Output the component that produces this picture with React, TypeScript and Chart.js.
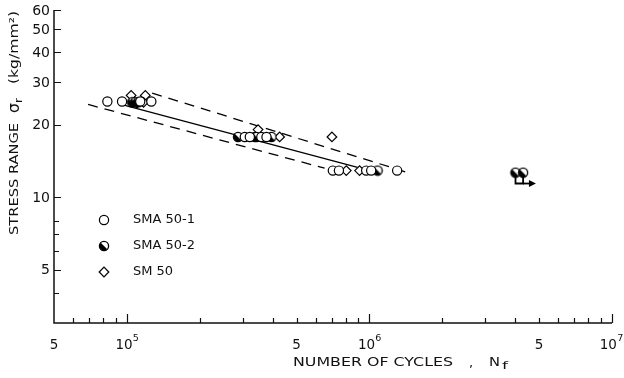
import React, { useEffect, useRef } from 'react';
import { Chart, registerables } from 'chart.js';

Chart.register(...registerables);

const FONT = '"DejaVu Sans", "Liberation Sans", sans-serif';
const INK = '#111';

// ---- data: number of cycles N and stress range (kg/mm²) ----
const sma501N = [0.83e5, 0.954e5, 1.134e5, 1.26e5, 3.06e5, 3.21e5, 3.58e5, 3.76e5, 7.06e5, 7.48e5, 9.69e5, 1.016e6, 1.3e6];
const sma501S = [25.0, 25.0, 25.0, 25.0, 17.8, 17.8, 17.8, 17.8, 12.9, 12.9, 12.9, 12.9, 12.9];
const sma502N = [1.05e5, 1.08e5, 1.11e5, 2.87e5, 3.36e5, 3.42e5, 3.94e5, 1.08e6, 4.0e6, 4.3e6];
const sma502S = [24.8, 24.8, 24.8, 17.8, 17.8, 17.8, 17.8, 12.9, 12.65, 12.65];
const sm50N = [1.04e5, 1.19e5, 1.1e5, 1.17e5, 3.47e5, 4.26e5, 7.0e5, 8.02e5, 9.1e5];
const sm50S = [26.5, 26.5, 24.6, 24.8, 19.1, 17.8, 17.8, 12.9, 12.9];

// S-N lines (mean and scatter band)
const upperN = [1.27e5, 1.46e6];
const upperS = [27.1, 12.6];
const meanN = [0.98e5, 8.93e5];
const meanS = [24.06, 13.3];
const lowerN = [6.91e4, 6.53e5];
const lowerS = [24.3, 13.2];

// run-out marker
const runN = [4.0e6, 4.0e6, 4.3e6, 4.3e6];
const runS = [12.65, 11.4, 11.4, 12.65];
const arrowN = [4.3e6, 4.72e6];
const arrowS = [11.4, 11.4];

// axes
const xMin = 5e4;
const xMax = 1e7;
const yMin = 3;
const yMax = 60;
const xMajorTicks = [1e5, 1e6, 1e7];
const xMinorTicks = [6e4, 7e4, 8e4, 9e4, 2e5, 3e5, 4e5, 5e5, 6e5, 7e5, 8e5, 9e5, 2e6, 3e6, 4e6, 5e6, 6e6, 7e6, 8e6, 9e6];
const xLabelValues = [5e4, 1e5, 5e5, 1e6, 5e6, 1e7];
const xTickLabels = ['5', '10^5', '5', '10^6', '5', '10^7'];
const yLabelValues = [60, 50, 40, 30, 20, 10, 5];
const yTickLabels = ['60', '50', '40', '30', '20', '10', '5'];
const yMinorTicks = [8, 7, 6, 4];

const legendLabels = ['SMA 50-1', 'SMA 50-2', 'SM 50'];
const legendKinds = ['open', 'half', 'diamond'];

const pts = (xs: number[], ys: number[]) => xs.map((x, i) => ({ x, y: ys[i] }));

function makeHalfCircle(): HTMLCanvasElement {
  const c = document.createElement('canvas');
  c.width = 12;
  c.height = 12;
  const g = c.getContext('2d')!;
  const cx = 6, cy = 6, r = 4.6;
  g.beginPath();
  g.arc(cx, cy, r, 0, Math.PI * 2);
  g.fillStyle = '#fff';
  g.fill();
  g.beginPath();
  g.moveTo(cx, cy);
  g.arc(cx, cy, r, Math.PI / 4, (5 * Math.PI) / 4);
  g.closePath();
  g.fillStyle = '#000';
  g.fill();
  g.beginPath();
  g.arc(cx, cy, r, 0, Math.PI * 2);
  g.lineWidth = 1.3;
  g.strokeStyle = '#000';
  g.stroke();
  return c;
}

function drawText(ctx: CanvasRenderingContext2D, text: string, x: number, y: number, font: string, targetW?: number, align: string = 'left') {
  ctx.font = font;
  const w = ctx.measureText(text).width;
  const sx = targetW ? targetW / w : 1;
  ctx.save();
  ctx.translate(x, y);
  ctx.scale(sx, 1);
  ctx.textAlign = 'left';
  ctx.textBaseline = 'middle';
  let dx = 0;
  if (align === 'center') dx = -w / 2;
  else if (align === 'right') dx = -w;
  ctx.fillText(text, dx, 0);
  ctx.restore();
}

export default function App() {
  const ref = useRef<HTMLCanvasElement>(null);

  useEffect(() => {
    document.body.style.margin = '0';
    const half = makeHalfCircle();

    const paper = {
      id: 'paper',
      afterDraw(chart: any) {
        const ctx: CanvasRenderingContext2D = chart.ctx;
        const xs = chart.scales.x;
        const ys = chart.scales.y;
        const { left, right, top, bottom } = chart.chartArea;
        ctx.save();
        ctx.strokeStyle = INK;
        ctx.fillStyle = INK;
        // axes
        ctx.lineWidth = 1.5;
        ctx.beginPath();
        ctx.moveTo(left, top);
        ctx.lineTo(left, bottom);
        ctx.lineTo(right, bottom);
        ctx.stroke();
        // ticks (inward)
        ctx.lineWidth = 1.2;
        ctx.beginPath();
        xMajorTicks.forEach((v) => {
          const p = Math.round(xs.getPixelForValue(v)) + 0.5;
          ctx.moveTo(p, bottom);
          ctx.lineTo(p, bottom - 9);
        });
        xMinorTicks.forEach((v) => {
          const p = Math.round(xs.getPixelForValue(v)) + 0.5;
          ctx.moveTo(p, bottom);
          ctx.lineTo(p, bottom - 5);
        });
        yLabelValues.forEach((v) => {
          const p = Math.round(ys.getPixelForValue(v)) + 0.5;
          ctx.moveTo(left, p);
          ctx.lineTo(left + 7, p);
        });
        yMinorTicks.forEach((v) => {
          const p = Math.round(ys.getPixelForValue(v)) + 0.5;
          ctx.moveTo(left, p);
          ctx.lineTo(left + 5, p);
        });
        ctx.stroke();

        // y tick labels
        yLabelValues.forEach((v, i) => {
          drawText(ctx, yTickLabels[i], left - 4, ys.getPixelForValue(v) + 1, `14px ${FONT}`, undefined, 'right');
        });
        // x tick labels
        xLabelValues.forEach((v, i) => {
          const p = xs.getPixelForValue(v);
          const lab = xTickLabels[i];
          const yy = bottom + 22;
          const bf = `13.5px ${FONT}`;
          const ef = `9.5px ${FONT}`;
          if (lab.includes('^')) {
            const [base, exp] = lab.split('^');
            ctx.font = bf;
            const bw = ctx.measureText(base).width;
            ctx.font = ef;
            const ew = ctx.measureText(exp).width;
            let x0 = p - (bw + ew) / 2;
            if (x0 + bw + ew > 623) x0 = 623 - bw - ew;
            drawText(ctx, base, x0, yy, bf);
            drawText(ctx, exp, x0 + bw + 0.3, yy - 6, ef);
          } else {
            drawText(ctx, lab, p, yy, bf, undefined, 'center');
          }
        });

        // x title
        const ty = bottom + 40;
        const tf = `13px ${FONT}`;
        drawText(ctx, 'NUMBER OF CYCLES', 293, ty, tf, 160);
        drawText(ctx, ',', 469, ty + 1, tf);
        drawText(ctx, 'N', 489, ty, tf, 11);
        drawText(ctx, 'f', 502, ty + 3, `10px ${FONT}`, 6);

        // y title (rotated)
        ctx.save();
        ctx.translate(15, 0);
        ctx.rotate(-Math.PI / 2);
        drawText(ctx, 'STRESS RANGE', -235, 0, `13px ${FONT}`, 112);
        drawText(ctx, 'σ', -113, 0, `15px ${FONT}`, 10);
        drawText(ctx, 'r', -103, 4, `10px ${FONT}`, 5);
        drawText(ctx, '(kg/mm²)', -84, 0, `13px ${FONT}`, 73);
        ctx.restore();

        // legend
        const lx = 104;
        const lys = [220, 246, 272];
        legendKinds.forEach((k, i) => {
          const y = lys[i];
          ctx.lineWidth = 1.2;
          ctx.strokeStyle = '#000';
          if (k === 'open') {
            ctx.beginPath();
            ctx.arc(lx, y, 4.6, 0, Math.PI * 2);
            ctx.fillStyle = '#fff';
            ctx.fill();
            ctx.stroke();
          } else if (k === 'half') {
            ctx.drawImage(half, lx - 6, y - 6);
          } else {
            ctx.beginPath();
            ctx.moveTo(lx - 4.8, y);
            ctx.lineTo(lx, y - 4.8);
            ctx.lineTo(lx + 4.8, y);
            ctx.lineTo(lx, y + 4.8);
            ctx.closePath();
            ctx.fillStyle = '#fff';
            ctx.fill();
            ctx.stroke();
          }
          ctx.fillStyle = INK;
          drawText(ctx, legendLabels[i], 133, y, `13px ${FONT}`);
        });

        // arrow head on run-out
        const ax = xs.getPixelForValue(arrowN[1]);
        const ay = ys.getPixelForValue(arrowS[1]);
        ctx.fillStyle = '#000';
        ctx.beginPath();
        ctx.moveTo(ax + 3, ay);
        ctx.lineTo(ax - 4, ay - 3.5);
        ctx.lineTo(ax - 4, ay + 3.5);
        ctx.closePath();
        ctx.fill();
        ctx.restore();
      },
    };

    const lineDs = (xs: number[], ys: number[], dash: number[], w = 1.3) => ({
      type: 'line' as const,
      data: pts(xs, ys),
      showLine: true,
      borderColor: '#000',
      borderWidth: w,
      borderDash: dash,
      pointRadius: 0,
      fill: false,
    });

    const chart = new Chart(ref.current!, {
      type: 'scatter',
      data: {
        datasets: [
          {
            label: 'SMA 50-1',
            data: pts(sma501N, sma501S),
            pointStyle: 'circle',
            pointRadius: 4.6,
            backgroundColor: '#fff',
            borderColor: '#000',
            borderWidth: 1.2,
          },
          {
            label: 'SMA 50-2',
            data: pts(sma502N, sma502S),
            pointStyle: half,
            pointRadius: 4.6,
          },
          {
            label: 'SM 50',
            data: pts(sm50N, sm50S),
            pointStyle: 'rectRot',
            pointRadius: 4.8,
            backgroundColor: '#fff',
            borderColor: '#000',
            borderWidth: 1.2,
          },
          lineDs(runN, runS, [], 1.8),
          lineDs(arrowN, arrowS, [], 1.8),
          lineDs(upperN, upperS, [10, 7]),
          lineDs(meanN, meanS, []),
          lineDs(lowerN, lowerS, [10, 7]),
        ] as any,
      },
      options: {
        animation: false,
        responsive: false,
        devicePixelRatio: 1,
        layout: { padding: { top: 10, right: 12, left: 0, bottom: 0 } },
        plugins: { legend: { display: false }, tooltip: { enabled: false } },
        scales: {
          x: {
            type: 'logarithmic',
            min: xMin,
            max: xMax,
            ticks: { display: false },
            grid: { display: false },
            border: { display: false },
            afterFit: (s: any) => {
              s.height = 55;
            },
          },
          y: {
            type: 'logarithmic',
            min: yMin,
            max: yMax,
            ticks: { display: false },
            grid: { display: false },
            border: { display: false },
            afterFit: (s: any) => {
              s.width = 54;
            },
          },
        },
      },
      plugins: [paper],
    });
    return () => chart.destroy();
  }, []);

  return (
    <div style={{ width: 624, height: 378, background: '#fff' }}>
      <canvas ref={ref} width={624} height={378} />
    </div>
  );
}
